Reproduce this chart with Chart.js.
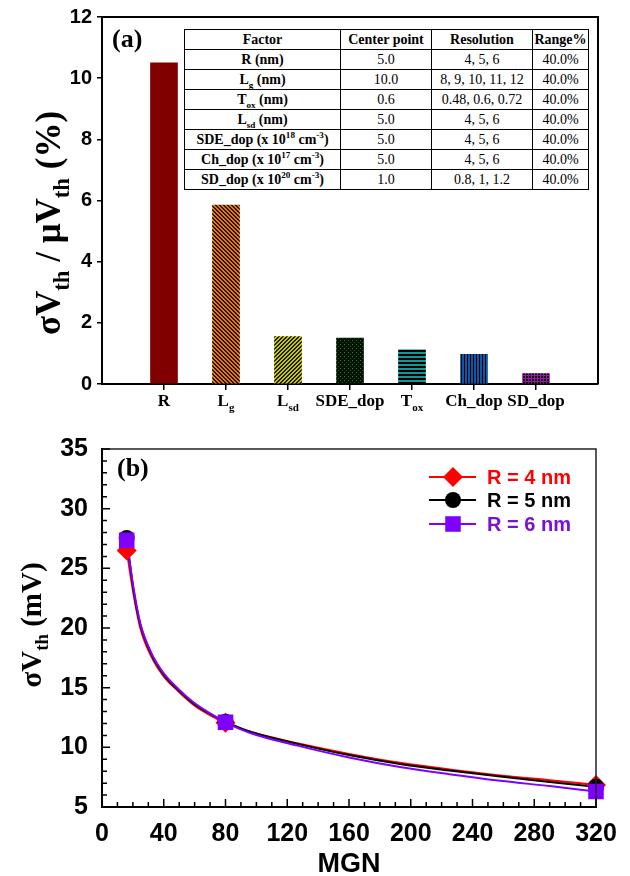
<!DOCTYPE html>
<html><head><meta charset="utf-8">
<script src="https://cdn.jsdelivr.net/npm/chart.js@4"></script>
<style>
html,body{margin:0;padding:0;background:#fff;}
#wrap{position:relative;width:630px;height:876px;overflow:hidden;background:#fff;}
#ca{position:absolute;left:0;top:0;}
#cb{position:absolute;left:0;top:420px;}
.plabel{position:absolute;font-family:'Liberation Serif','Times New Roman',serif;font-weight:bold;font-size:26px;line-height:1;}
table.param{position:absolute;left:184px;top:29px;width:404px;height:161px;border-collapse:collapse;font-family:'Liberation Serif','Times New Roman',serif;font-size:14px;table-layout:fixed;background:#fff;color:#000;}
table.param td, table.param th{border:1.5px solid #000;text-align:center;padding:0;height:19px;line-height:14px;white-space:nowrap;overflow:hidden;}
table.param th{font-weight:bold;}
table.param td.f{font-weight:bold;}
table.param sub, table.param sup{font-size:0.65em;line-height:0;}
</style></head>
<body>
<div id="wrap">
<canvas id="ca" width="630" height="420"></canvas>
<canvas id="cb" width="630" height="456"></canvas>
<div class="plabel" style="left:112px;top:26px;">(a)</div>
<div class="plabel" style="left:117px;top:455px;">(b)</div>
<table class="param" id="tbl"></table>
</div>
<script>
// ---------- Panel (a) data ----------
const categoryBase = ['R', 'L', 'L', 'SDE_dop', 'T', 'Ch_dop', 'SD_dop'];
const categorySub  = ['',  'g', 'sd', '',       'ox', '',      ''];
const sensitivity  = [10.5, 5.85, 1.55, 1.5, 1.12, 0.97, 0.34];

// table
const tableHeader  = ['Factor', 'Center point', 'Resolution', 'Range%'];
const factorNames  = ['R (nm)', 'L<sub>g</sub> (nm)', 'T<sub>ox</sub> (nm)', 'L<sub>sd</sub> (nm)',
  'SDE_dop (x 10<sup>18</sup> cm<sup>-3</sup>)', 'Ch_dop (x 10<sup>17</sup> cm<sup>-3</sup>)', 'SD_dop (x 10<sup>20</sup> cm<sup>-3</sup>)'];
const centerPoints = ['5.0', '10.0', '0.6', '5.0', '5.0', '5.0', '1.0'];
const resolutions  = ['4, 5, 6', '8, 9, 10, 11, 12', '0.48, 0.6, 0.72', '4, 5, 6', '4, 5, 6', '4, 5, 6', '0.8, 1, 1.2'];
const rangePct     = ['40.0%', '40.0%', '40.0%', '40.0%', '40.0%', '40.0%', '40.0%'];

// ---------- Panel (b) data ----------
const mgn = [16, 80, 320];
const r4 = [26.5, 12.05, 6.85];
const r5 = [27.55, 12.15, 6.7];
const r6 = [27.35, 12.1, 6.3];
const fitMgn = [16, 20.5, 24.8, 32, 40, 48.6, 59, 70, 80, 96, 128, 160, 193, 225, 258, 290, 320];
const fitR4  = [26.5, 22.8, 20.0, 17.6, 15.95, 14.8, 13.6, 12.7, 12.05, 11.3, 10.3, 9.45, 8.7, 8.15, 7.65, 7.25, 6.85];
const fitR5  = [27.55, 23.1, 20.3, 17.8, 16.1, 14.9, 13.7, 12.8, 12.15, 11.3, 10.25, 9.35, 8.6, 8.05, 7.55, 7.1, 6.7];
const fitR6  = [27.35, 23.3, 20.4, 17.9, 16.2, 15.0, 13.8, 12.85, 12.1, 11.2, 10.1, 9.15, 8.35, 7.75, 7.2, 6.75, 6.3];
const seriesNames = ['R = 4 nm', 'R = 5 nm', 'R = 6 nm'];

// ---------- build table ----------
(function(){
  const widths = [156, 91, 101, 56];
  let h = '<colgroup>' + widths.map(w => `<col style="width:${w}px">`).join('') + '</colgroup>';
  h += '<tr>' + tableHeader.map(t => `<th>${t}</th>`).join('') + '</tr>';
  for (let i = 0; i < factorNames.length; i++) {
    h += `<tr><td class="f">${factorNames[i]}</td><td>${centerPoints[i]}</td><td>${resolutions[i]}</td><td>${rangePct[i]}</td></tr>`;
  }
  document.getElementById('tbl').innerHTML = h;
})();

const SERIF = "'Liberation Serif','Times New Roman',serif";
const SANS = "'Liberation Sans',Arial,sans-serif";

function drawRich(ctx, parts, x, y, size, family, align, subShift) {
  const items = parts.map(([t, s]) => {
    const fs = s ? size * 0.65 : size;
    ctx.font = `bold ${fs}px ${family}`;
    return {t, s, fs, w: ctx.measureText(t).width};
  });
  const total = items.reduce((a, b) => a + b.w, 0);
  let cx = align === 'center' ? x - total / 2 : x;
  ctx.textAlign = 'left';
  ctx.textBaseline = 'alphabetic';
  for (const it of items) {
    ctx.font = `bold ${it.fs}px ${family}`;
    ctx.fillText(it.t, cx, y + (it.s ? size * (subShift || 0.25) : 0));
    cx += it.w;
  }
}

// ---------- patterns ----------
function makePattern(w, h, draw) {
  const c = document.createElement('canvas'); c.width = w; c.height = h;
  const g = c.getContext('2d'); draw(g);
  return g.createPattern(c, 'repeat');
}
function pix(g, x, y, col) { g.fillStyle = col; g.fillRect(x, y, 1, 1); }
const patterns = [
  '#800000',
  makePattern(4, 4, g => { g.fillStyle = '#2a1400'; g.fillRect(0,0,4,4);
    for (let x=0;x<4;x++) for (let y=0;y<4;y++) if (((x - y + 8) % 4) < 2) pix(g,x,y,'#e8780f'); }),
  makePattern(4, 4, g => { g.fillStyle = '#1c1c00'; g.fillRect(0,0,4,4);
    for (let x=0;x<4;x++) for (let y=0;y<4;y++) if (((x + y) % 4) < 2) pix(g,x,y,'#c8c800'); }),
  makePattern(4, 4, g => { g.fillStyle = '#031003'; g.fillRect(0,0,4,4);
    pix(g,0,0,'#1a961a'); pix(g,2,2,'#0c600c'); }),
  makePattern(4, 4, g => { g.fillStyle = '#000'; g.fillRect(0,0,4,4);
    g.fillStyle = '#129696'; g.fillRect(0,0,4,2); }),
  makePattern(3, 3, g => { g.fillStyle = '#000'; g.fillRect(0,0,3,3);
    g.fillStyle = '#0b56a8'; g.fillRect(0,0,2,3); }),
  makePattern(3, 3, g => { g.fillStyle = '#000'; g.fillRect(0,0,3,3);
    g.fillStyle = '#a010a8'; g.fillRect(0,0,3,1); g.fillRect(0,0,1,3); })
];

// ---------- Chart (a) ----------
const nA = categoryBase.length + 2;
const frameA = {
  id: 'frameA',
  afterDraw(chart) {
    const {ctx, chartArea: a, scales} = chart;
    ctx.save();
    ctx.strokeStyle = '#000'; ctx.lineWidth = 2;
    ctx.beginPath();
    ctx.moveTo(a.left, a.top); ctx.lineTo(a.right, a.top); ctx.lineTo(a.right, a.bottom);
    ctx.stroke();
    ctx.fillStyle = '#000';
    for (let i = 0; i < categoryBase.length; i++) {
      const x = scales.x.getPixelForValue(i + 1);
      const parts = [[categoryBase[i], 0]];
      if (categorySub[i]) parts.push([categorySub[i], 1]);
      drawRich(ctx, parts, x, 406, 17, SERIF, 'center', 0.28);
    }
    // y title
    ctx.translate(60, 223);
    ctx.rotate(-Math.PI / 2);
    drawRich(ctx, [['σV',0],['th',1],[' / μV',0],['th',1],[' (%)',0]], 0, 0, 35, SERIF, 'center', 0.25);
    ctx.restore();
  }
};

new Chart(document.getElementById('ca'), {
  type: 'bar',
  data: {
    labels: Array.from({length: nA}, (_, i) => i === 0 || i === nA - 1 ? '' : categoryBase[i - 1] + categorySub[i - 1]),
    datasets: [{
      data: [null, ...sensitivity, null],
      backgroundColor: [null, ...patterns, null],
      borderWidth: 0,
      barThickness: 27
    }]
  },
  options: {
    responsive: false, animation: false,
    layout: {padding: {left: 0, right: 32, top: 17, bottom: 0}},
    plugins: {legend: {display: false}, tooltip: {enabled: false}},
    scales: {
      x: {
        offset: false,
        grid: {display: true, offset: false, drawOnChartArea: false, drawTicks: true, tickLength: 6, lineWidth: 1.5,
               color: c => (c.index === 0 || c.index === nA - 1) ? 'rgba(0,0,0,0)' : '#000'},
        border: {display: true, color: '#000', width: 2},
        ticks: {display: false},
        afterFit: s => { s.height = 36; }
      },
      y: {
        min: 0, max: 12,
        ticks: {stepSize: 2, color: '#000', padding: 5, font: {family: SANS, weight: 'bold', size: 20}},
        grid: {display: true, drawOnChartArea: false, drawTicks: true, tickLength: 5, color: '#000', lineWidth: 1.5},
        border: {display: true, color: '#000', width: 2},
        afterFit: s => { s.width = 102; }
      }
    }
  },
  plugins: [frameA]
});

// ---------- Chart (b) ----------
const colors = ['#ff0000', '#000000', '#8000ff'];
const textColors = ['#ff0000', '#000000', '#7a10d8'];
const styles = ['rectRot', 'circle', 'rect'];
const radii = [10, 8, 11];

function drawMarker(ctx, style, x, y, r, col) {
  ctx.fillStyle = col;
  ctx.beginPath();
  if (style === 'circle') ctx.arc(x, y, r, 0, Math.PI * 2);
  else if (style === 'rectRot') { ctx.moveTo(x, y - r); ctx.lineTo(x + r, y); ctx.lineTo(x, y + r); ctx.lineTo(x - r, y); ctx.closePath(); }
  else { const s = r * Math.SQRT1_2; ctx.rect(x - s, y - s, 2 * s, 2 * s); }
  ctx.fill();
}

const decoB = {
  id: 'decoB',
  afterDraw(chart) {
    const {ctx, chartArea: a, scales} = chart;
    ctx.save();
    // frame
    ctx.strokeStyle = '#222'; ctx.lineWidth = 1.5;
    ctx.beginPath();
    ctx.moveTo(a.left, a.top); ctx.lineTo(a.right, a.top); ctx.lineTo(a.right, a.bottom);
    ctx.stroke();
    // inward ticks
    ctx.strokeStyle = '#000'; ctx.lineWidth = 1.5;
    ctx.beginPath();
    for (let v = 0; v <= 320; v += 10) {
      const x = scales.x.getPixelForValue(v);
      const L = v % 40 === 0 ? 8 : 5;
      ctx.moveTo(x, a.bottom); ctx.lineTo(x, a.bottom - L);
    }
    for (let v = 5; v <= 35; v += 1) {
      const y = scales.y.getPixelForValue(v);
      const L = v % 5 === 0 ? 8 : 5;
      ctx.moveTo(a.left, y); ctx.lineTo(a.left + L, y);
    }
    ctx.stroke();
    // legend
    const rows = [57, 80, 104];
    for (let i = 0; i < 3; i++) {
      ctx.strokeStyle = colors[i]; ctx.lineWidth = 2;
      ctx.beginPath(); ctx.moveTo(429, rows[i]); ctx.lineTo(476, rows[i]); ctx.stroke();
      drawMarker(ctx, styles[i], 453, rows[i], radii[i], colors[i]);
      ctx.fillStyle = textColors[i];
      ctx.font = `bold 20px ${SANS}`;
      ctx.textAlign = 'left'; ctx.textBaseline = 'middle';
      ctx.fillText(seriesNames[i], 487, rows[i] + 1);
    }
    // axis titles
    ctx.fillStyle = '#000';
    ctx.font = `bold 27px ${SANS}`;
    ctx.textAlign = 'center'; ctx.textBaseline = 'alphabetic';
    ctx.fillText('MGN', (a.left + a.right) / 2, 452);
    ctx.translate(41, 205);
    ctx.rotate(-Math.PI / 2);
    drawRich(ctx, [['σV',0],['th',1],[' (mV)',0]], 0, 0, 29, SERIF, 'center', 0.25);
    ctx.restore();
  }
};

const fits = [fitR4, fitR5, fitR6];
const pts = [r4, r5, r6];
const dsB = [];
for (let i = 2; i >= 0; i--) {
  dsB.push({
    data: mgn.map((m, k) => ({x: m, y: pts[i][k]})),
    showLine: false, pointStyle: styles[i], pointRadius: radii[i], pointHoverRadius: radii[i],
    pointBackgroundColor: colors[i], pointBorderColor: colors[i], pointBorderWidth: 0, clip: false
  });
}
for (let i = 2; i >= 0; i--) {
  dsB.push({
    data: fitMgn.map((m, k) => ({x: m, y: fits[i][k]})),
    showLine: true, pointRadius: 0, borderColor: colors[i], borderWidth: 2,
    cubicInterpolationMode: 'monotone', fill: false
  });
}

new Chart(document.getElementById('cb'), {
  type: 'scatter',
  data: {datasets: dsB},
  options: {
    responsive: false, animation: false,
    layout: {padding: {left: 0, right: 34, top: 26, bottom: 0}},
    plugins: {legend: {display: false}, tooltip: {enabled: false}},
    scales: {
      x: {
        type: 'linear', min: 0, max: 320,
        ticks: {stepSize: 40, autoSkip: false, maxRotation: 0, color: '#000', padding: 12, font: {family: SANS, weight: 'bold', size: 25}},
        grid: {display: false, drawTicks: false},
        border: {display: true, color: '#000', width: 2},
        afterFit: s => { s.height = 69; }
      },
      y: {
        min: 5, max: 35,
        ticks: {stepSize: 5, color: '#000', padding: 14, font: {family: SANS, weight: 'bold', size: 25}},
        grid: {display: false, drawTicks: false},
        border: {display: true, color: '#000', width: 2},
        afterFit: s => { s.width = 102; }
      }
    }
  },
  plugins: [decoB]
});
</script>
</body></html>
